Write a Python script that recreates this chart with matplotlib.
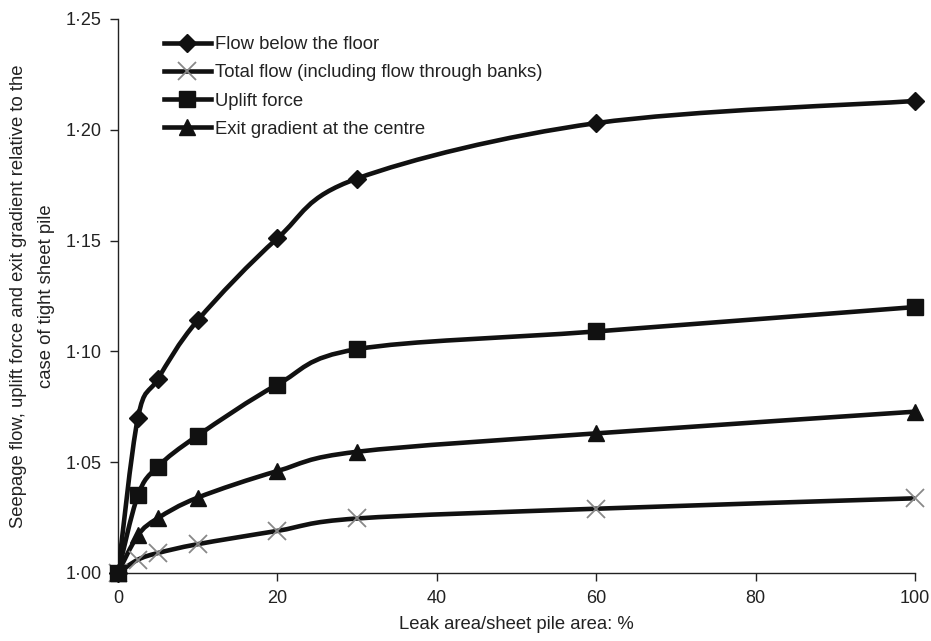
import matplotlib
matplotlib.use("Agg")
import matplotlib.pyplot as plt
from matplotlib.path import Path
from matplotlib.patches import PathPatch
from matplotlib.lines import Line2D
from matplotlib.ticker import FuncFormatter

plt.rcParams['font.family'] = ['Liberation Sans', 'DejaVu Sans']

leak_pct = [0, 2.5, 5, 10, 20, 30, 60, 100]
flow_below_floor = [1.000, 1.070, 1.0875, 1.114, 1.151, 1.178, 1.203, 1.213]
total_flow = [1.000, 1.006, 1.009, 1.013, 1.019, 1.0246, 1.029, 1.0337]
uplift_force = [1.000, 1.035, 1.048, 1.062, 1.085, 1.101, 1.109, 1.120]
exit_gradient = [1.000, 1.017, 1.0247, 1.034, 1.046, 1.0547, 1.063, 1.0728]

labels = ["Flow below the floor",
          "Total flow (including flow through banks)",
          "Uplift force",
          "Exit gradient at the centre"]

x_ticks = [0, 20, 40, 60, 80, 100]
y_ticks = [1.00, 1.05, 1.10, 1.15, 1.20, 1.25]

LINE_C = '#111111'
TEXT_C = '#222222'
LW = 3.3
FS = 13.3


def smooth_path(xs, ys):
    pts = list(zip(xs, ys))
    n = len(pts)
    verts = [pts[0]]
    codes = [Path.MOVETO]
    for i in range(n - 1):
        p0 = pts[i - 1] if i > 0 else pts[i]
        p1 = pts[i]
        p2 = pts[i + 1]
        p3 = pts[i + 2] if i + 2 < n else pts[i + 1]
        c1 = (p1[0] + (p2[0] - p0[0]) / 6, p1[1] + (p2[1] - p0[1]) / 6)
        c2 = (p2[0] - (p3[0] - p1[0]) / 6, p2[1] - (p3[1] - p1[1]) / 6)
        verts += [c1, c2, p2]
        codes += [Path.CURVE4] * 3
    return Path(verts, codes)


fig = plt.figure(figsize=(9.31, 6.41), dpi=100)
ax = fig.add_axes([0.1267, 0.1061, 0.8561, 0.8643])

series = [
    (flow_below_floor, dict(marker='D', markersize=9, color=LINE_C, mfc=LINE_C, mec=LINE_C)),
    (total_flow, dict(marker='x', markersize=13, color='#888888', mec='#888888', mew=1.3)),
    (uplift_force, dict(marker='s', markersize=11.5, color=LINE_C, mfc=LINE_C, mec=LINE_C)),
    (exit_gradient, dict(marker='^', markersize=11.5, color=LINE_C, mfc=LINE_C, mec=LINE_C)),
]

handles = []
for (ys, mk), lab in zip(series, labels):
    patch = PathPatch(smooth_path(leak_pct, ys), facecolor='none', edgecolor=LINE_C,
                      lw=LW, transform=ax.transData, zorder=3, capstyle='round')
    ax.add_patch(patch)
    ax.plot(leak_pct, ys, linestyle='none', zorder=4, clip_on=False, **mk)
    h = Line2D([], [], color=LINE_C, lw=LW, marker=mk['marker'],
               markersize=mk['markersize'], mfc=mk.get('mfc', 'none'),
               mec=mk.get('mec'), mew=mk.get('mew', 1.0))
    handles.append(h)

ax.set_xlim(0, 100)
ax.set_ylim(1.00, 1.25)
ax.set_xticks(x_ticks)
ax.set_yticks(y_ticks)
ax.yaxis.set_major_formatter(FuncFormatter(lambda v, p: f"{v:.2f}".replace('.', '\u00b7')))

for s in ['top', 'right']:
    ax.spines[s].set_visible(False)
for s in ['left', 'bottom']:
    ax.spines[s].set_linewidth(1.0)
    ax.spines[s].set_color(TEXT_C)

ax.tick_params(axis='both', direction='out', length=6, width=1.0, colors=TEXT_C,
               labelsize=13, labelcolor=TEXT_C)
ax.tick_params(axis='x', pad=6)
ax.tick_params(axis='y', pad=6)

ax.set_xlabel("Leak area/sheet pile area: %", fontsize=FS, color=TEXT_C, labelpad=7)
ax.set_ylabel("Seepage flow, uplift force and exit gradient relative to the\ncase of tight sheet pile",
              fontsize=FS, color=TEXT_C, linespacing=1.85, labelpad=7)

leg = ax.legend(handles, labels, loc='upper left', bbox_to_anchor=(0.048, 0.982),
                frameon=False, fontsize=FS, handlelength=2.55, handletextpad=0.25,
                labelspacing=0.6, borderaxespad=0.0, labelcolor=TEXT_C)

fig.savefig("out.png", dpi=100)
